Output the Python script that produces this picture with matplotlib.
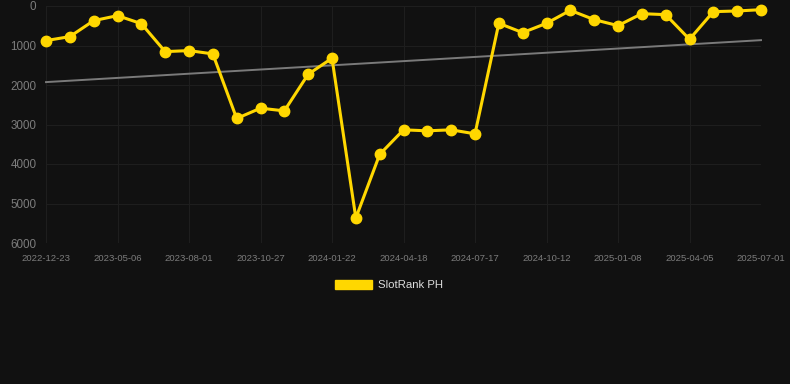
import matplotlib
matplotlib.use("Agg")
import matplotlib.pyplot as plt
import numpy as np

plt.rcParams['font.family'] = ['Liberation Sans', 'DejaVu Sans']

tick_labels = ["2022-12-23", "2023-05-06", "2023-08-01", "2023-10-27", "2024-01-22",
               "2024-04-18", "2024-07-17", "2024-10-12", "2025-01-08", "2025-04-05",
               "2025-07-01"]
rank_values = [876, 775, 371, 244, 447, 1155, 1129, 1213, 2848, 2587, 2655, 1728,
               1323, 5368, 3758, 3135, 3160, 3135, 3236, 438, 674, 438, 110, 345,
               497, 194, 219, 843, 143, 126, 93]
series_name = "SlotRank PH"

bg = "#111111"
fig = plt.figure(figsize=(7.9, 3.84), dpi=100, facecolor=bg)
ax = fig.add_axes([46/790, 1-243/384, (761-46)/790, (243-6)/384], facecolor=bg)

x = np.arange(len(rank_values))
y = np.array(rank_values, dtype=float)

# trend line (linear fit)
coef = np.polyfit(x, y, 1)
ax.plot(x, np.polyval(coef, x), color="#7a7a7a", lw=1.4, zorder=2, clip_on=False)

ax.plot(x, y, color="#ffd700", lw=2.2, marker="o", markersize=7.5,
        markerfacecolor="#ffd700", markeredgecolor="#ffd700", zorder=3, clip_on=False)

ax.set_xlim(0, len(rank_values) - 1)
ax.set_ylim(6000, 0)
ax.set_yticks([0, 1000, 2000, 3000, 4000, 5000, 6000])
ax.set_yticklabels(["0", "1000", "2000", "3000", "4000", "5000", "6000"])
ax.set_xticks(x[::3])
ax.set_xticklabels(tick_labels)

ax.grid(True, color="#1e1e1e", lw=0.8)
ax.set_axisbelow(True)
for s in ax.spines.values():
    s.set_visible(False)
ax.tick_params(axis="y", length=0, pad=7, labelsize=8.4, labelcolor="#7c7c7c")
ax.tick_params(axis="x", length=0, pad=8, labelsize=6.8, labelcolor="#7c7c7c")

# legend
from matplotlib.patches import Patch
leg = fig.legend(handles=[Patch(facecolor="#ffd700", edgecolor="#ffd700")],
                 labels=[series_name], loc="center", bbox_to_anchor=(389/790, 1-285/384),
                 frameon=False, fontsize=8.2, handlelength=3.3, handleheight=0.9,
                 handletextpad=0.5, labelcolor="#dddddd")

fig.savefig("out.png", dpi=100, facecolor=bg)
